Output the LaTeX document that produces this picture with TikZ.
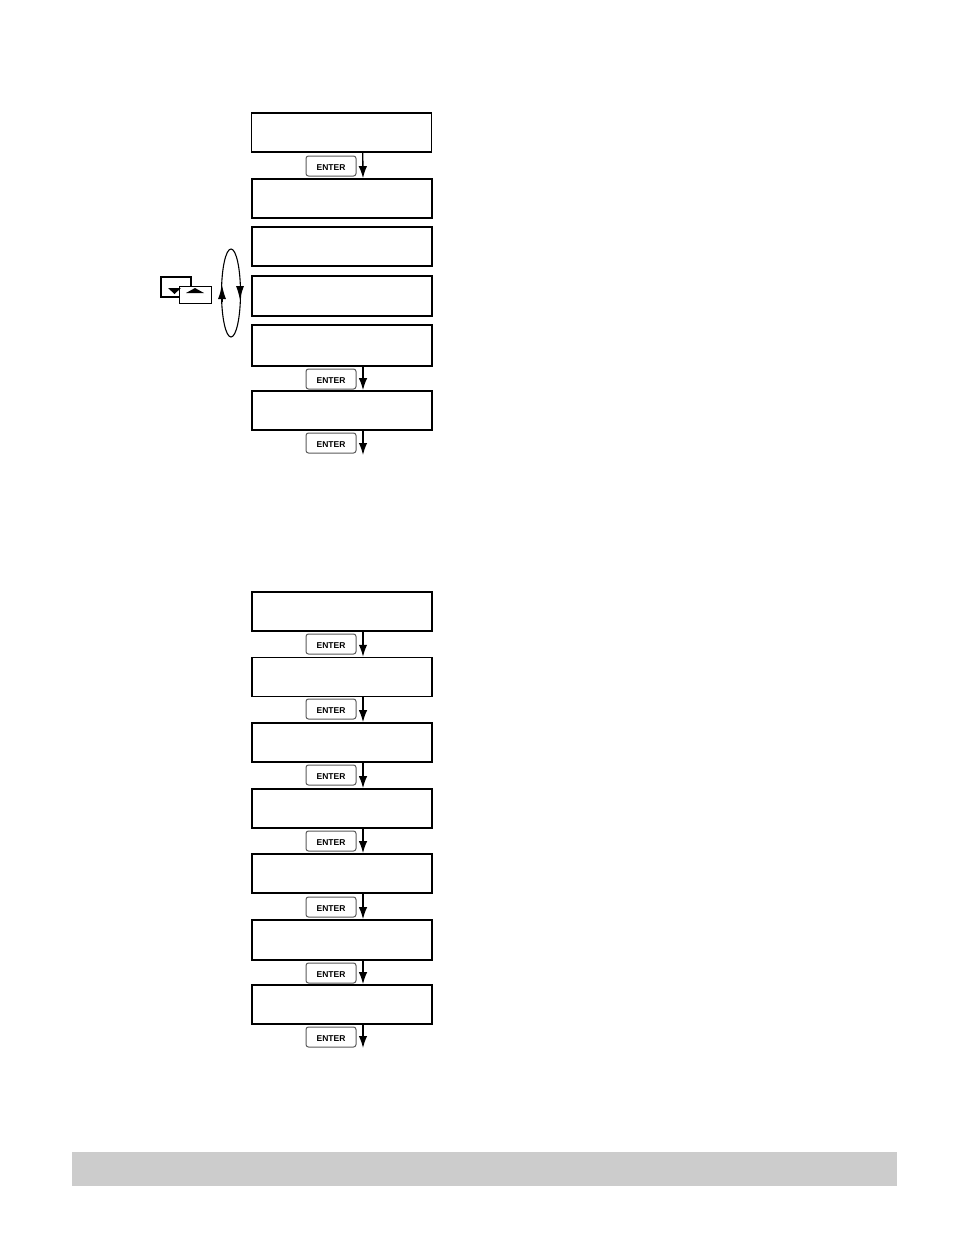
\documentclass[tikz,border=0pt]{standalone}
\usepackage{fontspec}
\setmainfont{Liberation Sans}
\usepackage{xcolor}
\usetikzlibrary{arrows.meta,positioning,shapes,calc}
\definecolor{bandgray}{HTML}{CCCCCC}
\tikzset{
  screen/.style = {draw, line width = 1.7pt, minimum width = 180pt, minimum height = 39pt, inner sep = 0pt},
  enter/.style = {draw = black!65, line width = 1pt, rounded corners = 2.5pt, minimum width = 50pt, minimum height = 20pt, inner sep = 0pt, text height = 8pt, text depth = 0pt, font = \fontsize{8.5}{10}\selectfont\bfseries},
  flow/.style = {-{Latex[length = 12pt, width = 8.5pt]}, line width = 1.4pt},
  turn/.style = {-{Latex[length = 14pt, width = 8pt]}, line width = 1pt},
  keybox/.style = {draw, fill = white, inner sep = 0pt}
}
\begin{document}
\begin{tikzpicture}[x = 1pt, y = -1pt]
\useasboundingbox (0,0) rectangle (954,1235);
% top column
\node[screen, line width = 1.3pt] (s1) at (341.7,132.5) {};
\node[screen] (s2) at (342,198.5) {};
\node[screen] (s3) at (342,246.5) {};
\node[screen, minimum height = 40pt] (s4) at (342,296) {};
\node[screen, minimum height = 41pt] (s5) at (342,345.5) {};
\node[screen] (s6) at (342,410.5) {};
\node[enter] (e1) at (331,166) {ENTER};
\node[enter] (e2) at (331,379) {ENTER};
\node[enter] (e3) at (331,443) {ENTER};
\coordinate (end1) at (363,455);
\draw[flow] ([xshift = 21pt]s1.south) -- ([xshift = 21pt]s2.north);
\draw[flow] ([xshift = 21pt]s5.south) -- ([xshift = 21pt]s6.north);
\draw[flow] ([xshift = 21pt]s6.south) -- (end1);
% up and down keys
\node[keybox, line width = 1.7pt, minimum width = 30pt, minimum height = 20pt] (down) at (176,287) {};
\node[keybox, line width = .9pt, minimum width = 32pt, minimum height = 17pt] (up) at (195.5,294.5) {};
\fill (168,288) -- (181,288) -- (174.5,294) -- cycle;
\fill (186,293) -- (204,293) -- (195,288) -- cycle;
\node[draw, ellipse, line width = 1.1pt, minimum width = 19pt, minimum height = 88pt, inner sep = 0pt] (loop) at (231,293) {};
\coordinate (upT) at (222,285);
\coordinate (downT) at (240,300);
\draw[turn] (222,302) -- (upT);
\draw[turn] (240,283) -- (downT);
% bottom column
\node[screen] (t1) at (342,611.5) {};
\node[screen, line width = 1.5pt] (t2) at (342,677) {};
\node[screen] (t3) at (342,742.5) {};
\node[screen] (t4) at (342,808.5) {};
\node[screen] (t5) at (342,873.5) {};
\node[screen, minimum height = 40pt] (t6) at (342,940) {};
\node[screen] (t7) at (342,1004.5) {};
\node[enter] (f1) at (331,644) {ENTER};
\node[enter] (f2) at (331,709) {ENTER};
\node[enter] (f3) at (331,775) {ENTER};
\node[enter] (f4) at (331,841) {ENTER};
\node[enter] (f5) at (331,907) {ENTER};
\node[enter] (f6) at (331,973) {ENTER};
\node[enter] (f7) at (331,1037) {ENTER};
\coordinate (end2) at (363,1048);
\draw[flow] ([xshift = 21pt]t1.south) -- ([xshift = 21pt]t2.north);
\draw[flow] ([xshift = 21pt]t2.south) -- ([xshift = 21pt]t3.north);
\draw[flow] ([xshift = 21pt]t3.south) -- ([xshift = 21pt]t4.north);
\draw[flow] ([xshift = 21pt]t4.south) -- ([xshift = 21pt]t5.north);
\draw[flow] ([xshift = 21pt]t5.south) -- ([xshift = 21pt]t6.north);
\draw[flow] ([xshift = 21pt]t6.south) -- ([xshift = 21pt]t7.north);
\draw[flow] ([xshift = 21pt]t7.south) -- (end2);
% footer band
\node[fill = bandgray, minimum width = 825pt, minimum height = 34pt, inner sep = 0pt] (band) at (484.5,1169) {};
\end{tikzpicture}
\end{document}
